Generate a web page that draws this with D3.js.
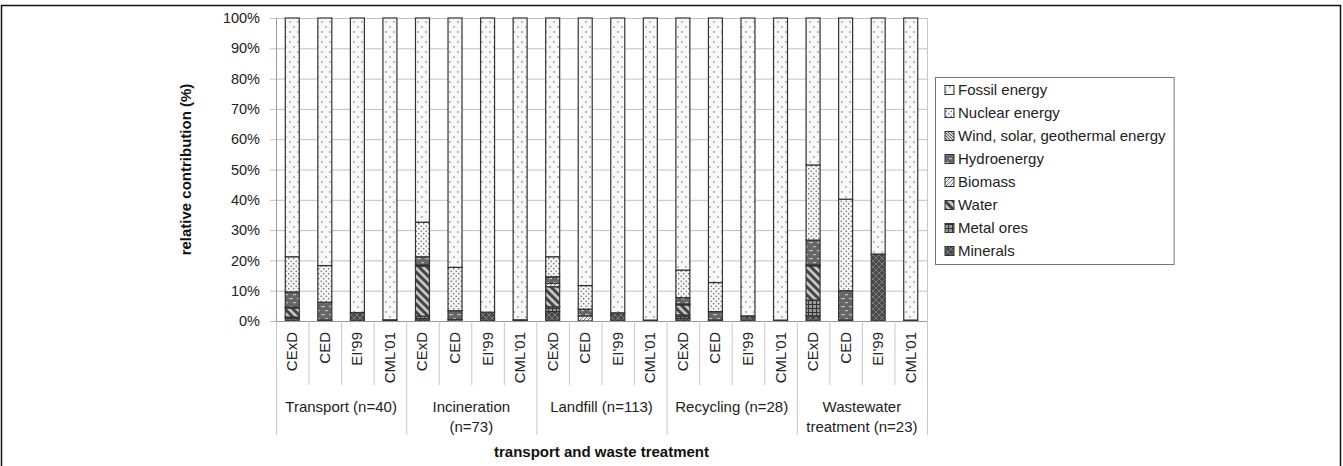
<!DOCTYPE html>
<html><head><meta charset="utf-8">
<script src="https://cdn.jsdelivr.net/npm/d3@7"></script>
<style>body{margin:0;background:#fff}svg{display:block;font-family:"Liberation Sans",Arial,sans-serif}</style>
</head><body>
<svg id="c" width="1343" height="466"></svg>
<script>
const groups = ["Transport (n=40)", "Incineration\n(n=73)", "Landfill (n=113)", "Recycling (n=28)", "Wastewater\ntreatment (n=23)"];
const methods = ["CExD", "CED", "EI'99", "CML'01"];
const seriesNames = ["Minerals", "Metal ores", "Water", "Biomass", "Hydroenergy", "Wind, solar, geothermal energy", "Nuclear energy", "Fossil energy"];
const minerals = [1.0, 0, 2.8, 0.4, 0.8, 0, 2.9, 0.4, 3.1, 0, 2.7, 0.3, 0.9, 0, 1.7, 0.3, 1.7, 0, 22.1, 0.3];
const metalOres = [0.3, 0, 0, 0, 0.8, 0, 0, 0, 1.6, 0, 0, 0, 1.1, 0, 0, 0, 5.2, 0, 0, 0];
const water = [3.0, 0, 0, 0, 16.5, 0, 0, 0, 6.6, 0, 0, 0, 3.3, 0, 0, 0, 11.3, 0, 0, 0];
const biomass = [0.3, 0.3, 0, 0, 0.4, 0.5, 0, 0, 1.1, 1.7, 0, 0, 0.3, 0.3, 0, 0, 0.3, 0.3, 0, 0];
const hydro = [5.0, 5.9, 0, 0, 2.7, 2.9, 0, 0, 2.2, 2.2, 0, 0, 2.1, 2.8, 0, 0, 8.2, 9.7, 0, 0];
const wind = [0, 0, 0, 0, 0, 0, 0, 0, 0, 0, 0, 0, 0, 0, 0, 0, 0, 0, 0, 0];
const nuclear = [11.6, 12.1, 0, 0, 11.4, 14.3, 0, 0, 6.6, 7.8, 0, 0, 9.1, 9.6, 0, 0, 24.8, 30.2, 0, 0];
const fossil = [78.8, 81.7, 97.2, 99.6, 67.4, 82.3, 97.1, 99.6, 78.8, 88.3, 97.3, 99.7, 83.2, 87.3, 98.3, 99.7, 48.5, 59.8, 77.9, 99.7];
const yTicks = [0, 10, 20, 30, 40, 50, 60, 70, 80, 90, 100];
const legendOrder = ["Fossil energy", "Nuclear energy", "Wind, solar, geothermal energy", "Hydroenergy", "Biomass", "Water", "Metal ores", "Minerals"];

const seriesValues = [minerals, metalOres, water, biomass, hydro, wind, nuclear, fossil];
const cats = [];
groups.forEach((g, gi) => methods.forEach((m, mi) => cats.push({key: gi + "|" + m, group: gi, method: m})));
const table = cats.map((c, i) => {
  const o = {key: c.key};
  seriesNames.forEach((s, si) => o[s] = seriesValues[si][i]);
  return o;
});

const svg = d3.select("#c");
const defs = svg.append("defs");
const patIds = {};
function pat(name, w, h, bg, draw) {
  const id = "p" + Object.keys(patIds).length;
  patIds[name] = id;
  const p = defs.append("pattern").attr("id", id).attr("patternUnits", "userSpaceOnUse").attr("width", w).attr("height", h);
  p.append("rect").attr("width", w).attr("height", h).attr("fill", bg);
  draw(p);
}
pat("Fossil energy", 8, 10, "#f8f8f8", p => {
  p.append("circle").attr("cx", 2).attr("cy", 2).attr("r", 0.7).attr("fill", "#555");
  p.append("circle").attr("cx", 6).attr("cy", 7).attr("r", 0.7).attr("fill", "#555");
});
pat("Nuclear energy", 5, 5, "#f4f4f4", p => {
  p.append("circle").attr("cx", 1.2).attr("cy", 1.2).attr("r", 0.7).attr("fill", "#555");
  p.append("circle").attr("cx", 3.7).attr("cy", 3.7).attr("r", 0.7).attr("fill", "#555");
});
pat("Wind, solar, geothermal energy", 3, 3, "#d8d8d8", p => {
  p.append("path").attr("d", "M0,0L3,3M-1,2L1,4M2,-1L4,1").attr("stroke", "#444").attr("stroke-width", 0.9);
});
pat("Hydroenergy", 8, 8, "#666", p => {
  p.append("rect").attr("x", 1).attr("y", 2).attr("width", 4).attr("height", 1.2).attr("fill", "#bbb");
  p.append("rect").attr("x", 5).attr("y", 6).attr("width", 4).attr("height", 1.2).attr("fill", "#bbb");
});
pat("Biomass", 4, 4, "#eee", p => {
  p.append("path").attr("d", "M0,4L4,0M-1,1L1,-1M3,5L5,3").attr("stroke", "#777").attr("stroke-width", 1);
});
pat("Water", 8, 8, "#c8c8c8", p => {
  p.append("path").attr("d", "M0,0L8,8M-4,4L4,12M4,-4L12,4").attr("stroke", "#444").attr("stroke-width", 3);
});
pat("Metal ores", 4, 4, "#999", p => {
  p.append("path").attr("d", "M0,0.5H4M0.5,0V4").attr("stroke", "#333").attr("stroke-width", 1);
});
pat("Minerals", 6, 6, "#4a4a4a", p => {
  p.append("path").attr("d", "M0,0L6,6M6,0L0,6").attr("stroke", "#888").attr("stroke-width", 0.8);
});

// outer frame
svg.append("rect").attr("x", 1.5).attr("y", 5.5).attr("width", 1339).attr("height", 470).attr("fill", "none").attr("stroke", "#111").attr("stroke-width", 1.5);

const x0 = 276, x1 = 927, yTop = 18, yBot = 321;
const x = d3.scaleBand().domain(cats.map(c => c.key)).range([x0, x1]).paddingInner(0.57).paddingOuter(0.285);
const y = d3.scaleLinear().domain([0, 100]).range([yBot, yTop]);

// grid
svg.append("g").selectAll("line").data(yTicks).join("line")
  .attr("x1", x0 - 6).attr("x2", x1).attr("y1", d => y(d) + 0.5).attr("y2", d => y(d) + 0.5)
  .attr("stroke", "#c0c0c0").attr("stroke-width", 1);

// y axis
const ya = svg.append("g").attr("transform", `translate(${x0},0)`)
  .call(d3.axisLeft(y).tickValues(yTicks).tickFormat(d => d + "%").tickSize(0).tickPadding(16));
ya.select(".domain").attr("stroke", "#999");
ya.selectAll("text").attr("font-size", 14.5).attr("fill", "#222").attr("font-family", "Liberation Sans, Arial, sans-serif");
svg.append("line").attr("x1", x1 + 0.5).attr("x2", x1 + 0.5).attr("y1", yTop).attr("y2", yBot).attr("stroke", "#c8c8c8");

// bars
const stack = d3.stack().keys(seriesNames)(table);
const bars = svg.append("g");
stack.forEach(layer => {
  bars.append("g").selectAll("rect").data(layer.filter(d => d[1] - d[0] > 0)).join("rect")
    .attr("x", d => x(d.data.key)).attr("width", x.bandwidth())
    .attr("y", d => y(d[1])).attr("height", d => y(d[0]) - y(d[1]))
    .attr("fill", `url(#${patIds[layer.key]})`).attr("stroke", "#333").attr("stroke-width", 1.2);
});

// x axis categories
const step = x.step();
const xa = svg.append("g");
xa.append("line").attr("x1", x0).attr("x2", x1).attr("y1", yBot + 0.5).attr("y2", yBot + 0.5).attr("stroke", "#999");
cats.forEach((c, i) => {
  const left = x(c.key) - (step - x.bandwidth()) / 2;
  const isGroupStart = i % 4 === 0;
  xa.append("line").attr("x1", left + 0.5).attr("x2", left + 0.5).attr("y1", yBot).attr("y2", isGroupStart ? 435 : 385)
    .attr("stroke", "#c8c8c8");
  const cx = x(c.key) + x.bandwidth() / 2;
  xa.append("text").attr("transform", `translate(${cx + 5},${332}) rotate(-90)`)
    .attr("text-anchor", "end").attr("font-size", 15).attr("fill", "#222").text(c.method);
});
xa.append("line").attr("x1", x1 + 0.5).attr("x2", x1 + 0.5).attr("y1", yBot).attr("y2", 435).attr("stroke", "#c8c8c8");
groups.forEach((g, gi) => {
  const cx = (x(cats[gi * 4].key) + x(cats[gi * 4 + 3].key) + x.bandwidth()) / 2;
  const lines = g.split("\n");
  const t = xa.append("text").attr("text-anchor", "middle").attr("font-size", 15).attr("fill", "#222");
  lines.forEach((l, li) => {
    t.append("tspan").attr("x", cx).attr("y", 412 + li * 20).text(l);
  });
});

// axis titles
svg.append("text").attr("x", (x0 + x1) / 2).attr("y", 457).attr("text-anchor", "middle")
  .attr("font-size", 15).attr("font-weight", "bold").attr("fill", "#111").text("transport and waste treatment");
svg.append("text").attr("transform", `translate(191,${(yTop + yBot) / 2}) rotate(-90)`).attr("text-anchor", "middle")
  .attr("font-size", 15).attr("font-weight", "bold").attr("fill", "#111").text("relative contribution (%)");

// legend
const lg = svg.append("g");
const lbox = lg.append("rect").attr("x", 935.5).attr("y", 77.5).attr("height", 187).attr("fill", "#fff").attr("stroke", "#777");
let maxW = 0;
legendOrder.forEach((s, i) => {
  const yy = 90 + i * 23;
  lg.append("rect").attr("x", 945).attr("y", yy - 4.5).attr("width", 9).attr("height", 9)
    .attr("fill", `url(#${patIds[s]})`).attr("stroke", "#333").attr("stroke-width", 1);
  const t = lg.append("text").attr("x", 958).attr("y", yy).attr("dy", "0.35em").attr("font-size", 15).attr("fill", "#222").text(s);
  maxW = Math.max(maxW, t.node().getComputedTextLength());
});
lbox.attr("width", 958 + maxW + 8 - 935);
</script>
</body></html>
